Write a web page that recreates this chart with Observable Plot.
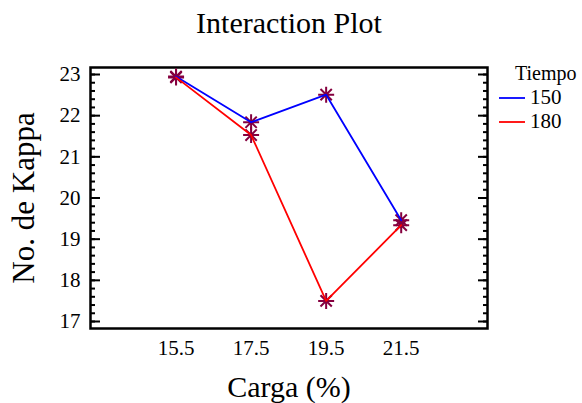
<!DOCTYPE html>
<html>
<head>
<meta charset="utf-8">
<script src="https://cdn.jsdelivr.net/npm/d3@7"></script>
<script src="https://cdn.jsdelivr.net/npm/@observablehq/plot@0.6"></script>
<style>
  html, body { margin: 0; padding: 0; background: #fff; }
</style>
</head>
<body>
<div id="chart"></div>
<script>
// Kappa number by load (Carga, %) for two cooking times (Tiempo)
const carga = [15.5, 17.5, 19.5, 21.5];
const tiempos = ["150", "180"];
const kappa150 = [22.95, 21.84, 22.51, 19.46];
const kappa180 = [22.93, 21.53, 17.50, 19.34];
const yTicks = [17, 18, 19, 20, 21, 22, 23];
const seriesColors = ["#0000ff", "#ff0000"];
const markerColor = "#85003f";

const rows = [
  ...carga.map((c, i) => ({carga: c, kappa: kappa150[i], tiempo: tiempos[0]})),
  ...carga.map((c, i) => ({carga: c, kappa: kappa180[i], tiempo: tiempos[1]}))
];

// eight-armed asterisk symbol
const asterisk = {
  draw(context, size) {
    const r = Math.sqrt(size / Math.PI);
    const d = r * Math.SQRT1_2;
    context.moveTo(-r, 0); context.lineTo(r, 0);
    context.moveTo(0, -r); context.lineTo(0, r);
    context.moveTo(-d, -d); context.lineTo(d, d);
    context.moveTo(-d, d); context.lineTo(d, -d);
  }
};

const minorTicks = d3.range(170, 231, 2).map(v => v / 10);
const serif = "'Liberation Serif', 'Times New Roman', serif";

// legend drawn in the right margin
function legend(index, scales, values, dimensions) {
  const g = d3.create("svg:g")
    .attr("font-family", serif)
    .attr("text-anchor", "start");
  const x0 = dimensions.width - dimensions.marginRight;
  g.append("text")
    .attr("x", x0 + 28).attr("y", dimensions.marginTop + 13)
    .attr("font-size", 20).attr("fill", "#000").text("Tiempo");
  tiempos.forEach((t, i) => {
    const y = dimensions.marginTop + 31 + i * 24;
    g.append("line")
      .attr("x1", x0 + 12).attr("x2", x0 + 38)
      .attr("y1", y).attr("y2", y)
      .attr("stroke", seriesColors[i]).attr("stroke-width", 1.8);
    g.append("text")
      .attr("x", x0 + 43).attr("y", y + 6)
      .attr("font-size", 21).attr("fill", "#000").text(t);
  });
  return g.node();
}

const chart = Plot.plot({
  width: 582,
  height: 403,
  marginLeft: 90,
  marginRight: 95,
  marginTop: 67,
  marginBottom: 75,
  style: {fontFamily: serif, background: "#fff", color: "#000"},
  x: {domain: [13.22, 23.8]},
  y: {domain: [16.83, 23.17]},
  color: {domain: tiempos, range: seriesColors},
  marks: [
    Plot.axisY(minorTicks, {anchor: "left", tickSize: -5, strokeWidth: 2, text: null, label: null}),
    Plot.axisY(minorTicks, {anchor: "right", tickSize: -5, strokeWidth: 2, text: null, label: null}),
    Plot.axisY(yTicks, {anchor: "right", tickSize: -10, strokeWidth: 2, text: null, label: null}),
    Plot.axisY(yTicks, {anchor: "left", tickSize: -10, tickPadding: 20, strokeWidth: 2, fontSize: 21, label: null}),
    Plot.axisX(carga, {tickSize: 0, tickPadding: 12, fontSize: 21, label: null, tickFormat: d => d.toFixed(1)}),
    Plot.frame({stroke: "#000", strokeWidth: 2.5}),
    Plot.dot(rows, {x: "carga", y: "kappa", symbol: asterisk, r: 8, stroke: markerColor, strokeWidth: 2}),
    Plot.line(rows, {x: "carga", y: "kappa", z: "tiempo", stroke: "tiempo", strokeWidth: 1.8}),
    Plot.text(["Interaction Plot"], {frameAnchor: "top", lineAnchor: "middle", dy: -44, fontSize: 30, fill: "#000"}),
    Plot.text(["Carga (%)"], {frameAnchor: "bottom", lineAnchor: "middle", dy: 59, fontSize: 30, fill: "#000"}),
    Plot.text(["No. de Kappa"], {frameAnchor: "left", textAnchor: "middle", dx: -66, rotate: -90, fontSize: 31, fill: "#000"}),
    legend
  ]
});

document.getElementById("chart").appendChild(chart);
</script>
</body>
</html>
